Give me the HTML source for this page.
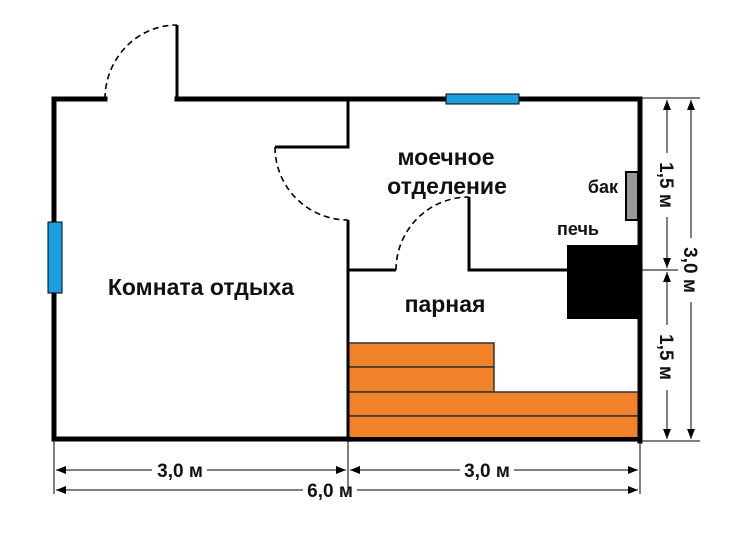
<!DOCTYPE html>
<html><head><meta charset="utf-8"><style>
html,body{margin:0;padding:0;background:#fff;}
svg{display:block;}
text{font-family:"Liberation Sans",Arial,sans-serif;font-weight:bold;fill:#111;}
</style></head><body>
<svg width="735" height="539" viewBox="0 0 735 539" xmlns="http://www.w3.org/2000/svg">
<defs>
<marker id="a" markerWidth="10" markerHeight="8" refX="10" refY="4" orient="auto" markerUnits="userSpaceOnUse"><path d="M0,0 L10,4 L0,8 Z" fill="#000"/></marker>
<marker id="b" markerWidth="10" markerHeight="8" refX="0" refY="4" orient="auto" markerUnits="userSpaceOnUse"><path d="M10,0 L0,4 L10,8 Z" fill="#000"/></marker>
</defs>
<g fill="#f0822a" stroke="#333" stroke-width="1.5">
<rect x="348" y="343" width="146" height="24"/>
<rect x="348" y="367" width="146" height="25"/>
<rect x="348" y="392" width="293" height="24"/>
<rect x="348" y="416" width="293" height="25"/>
</g>
<g stroke="#000" stroke-width="5" fill="none" stroke-linecap="square">
<path d="M105,99 L54,99 L54,439 L348,439"/>
<path d="M177,99 L640,99 L640,441"/>
</g>
<path d="M348,439 L641,439" stroke="#000" stroke-width="4"/>
<g stroke="#000" stroke-width="3" fill="none">
<path d="M177,25 L177,99"/>
<path d="M275,147 L348,147 L348,99"/>
<path d="M348,220 L348,440"/>
<path d="M348,270 L396,270"/>
<path d="M469,197 L469,270 L568,270"/>
</g>
<g stroke="#000" stroke-width="1.6" fill="none" stroke-dasharray="6,4">
<path d="M105,99 A72,74 0 0 1 177,25"/>
<path d="M275,147 A73,73 0 0 0 348,220"/>
<path d="M396,270 A73,73 0 0 1 469,197"/>
</g>
<rect x="446" y="94" width="73" height="10" fill="#1aa0e0" stroke="#000" stroke-width="1"/>
<rect x="48" y="222" width="14" height="71" fill="#1aa0e0" stroke="#000" stroke-width="1"/>
<rect x="567" y="245" width="73" height="74" fill="#000"/>
<rect x="626" y="172" width="12" height="48" fill="#999" stroke="#000" stroke-width="2"/>
<text x="201" y="295" font-size="23" text-anchor="middle">Комната отдыха</text>
<text x="446" y="165" font-size="23" text-anchor="middle">моечное</text>
<text x="447" y="194" font-size="23" text-anchor="middle">отделение</text>
<text x="445" y="312" font-size="23" text-anchor="middle">парная</text>
<text x="603" y="193" font-size="18" text-anchor="middle">бак</text>
<text x="578" y="235" font-size="18" text-anchor="middle">печь</text>
<g stroke="#000" stroke-width="1" fill="none">
<path d="M640,98 L700,98 M640,270 L678,270 M640,441 L700,441"/>
<path d="M54,441 L54,494 M348,441 L348,494 M640,441 L640,494"/>
<path d="M667,100 L667,153 M667,217 L667,268" marker-start="url(#b)" marker-end="url(#a)"/>
<path d="M667,272 L667,325 M667,390 L667,439" marker-start="url(#b)" marker-end="url(#a)"/>
<path d="M691,100 L691,238 M691,302 L691,439" marker-start="url(#b)" marker-end="url(#a)"/>
<path d="M56,470 L152,470 M207,470 L346,470" marker-start="url(#b)" marker-end="url(#a)"/>
<path d="M350,470 L460,470 M514,470 L638,470" marker-start="url(#b)" marker-end="url(#a)"/>
<path d="M56,490 L303,490 M357,490 L638,490" marker-start="url(#b)" marker-end="url(#a)"/>
</g>
<text x="180" y="477" font-size="19" text-anchor="middle">3,0 м</text>
<text x="487" y="477" font-size="19" text-anchor="middle">3,0 м</text>
<text x="330" y="497" font-size="19" text-anchor="middle">6,0 м</text>
<text transform="translate(660,185) rotate(90)" font-size="19" text-anchor="middle">1,5 м</text>
<text transform="translate(660,357) rotate(90)" font-size="19" text-anchor="middle">1,5 м</text>
<text transform="translate(684,270) rotate(90)" font-size="19" text-anchor="middle">3,0 м</text>
</svg>
</body></html>
